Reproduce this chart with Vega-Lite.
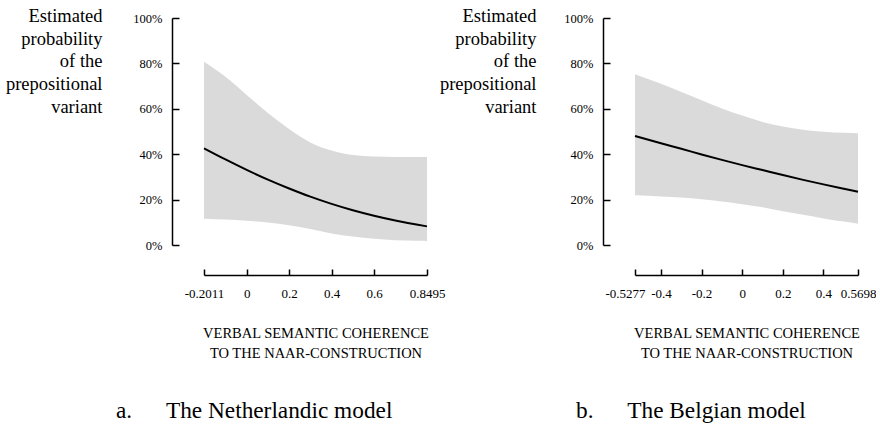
{
  "$schema": "https://vega.github.io/schema/vega-lite/v6.json",
  "background": "white",
  "padding": {"left": 5, "top": 6, "right": 0, "bottom": 0},
  "autosize": {"type": "pad"},
  "bounds": "flush",
  "spacing": 208,
  "config": {
    "font": "Liberation Serif",
    "view": {"stroke": null},
    "axis": {
      "grid": false,
      "domainColor": "black",
      "domainWidth": 1.5,
      "tickColor": "black",
      "tickWidth": 1.5,
      "labelColor": "black",
      "titleColor": "black",
      "labelFont": "Liberation Serif",
      "titleFont": "Liberation Serif",
      "titleFontWeight": "normal"
    },
    "axisX": {"labelFontSize": 13, "titleFontSize": 14.5, "titleLineHeight": 20},
    "axisY": {"labelFontSize": 12.5, "titleFontSize": 18.5, "titleLineHeight": 22.7},
    "title": {"font": "Liberation Serif", "fontWeight": "normal", "color": "black", "fontSize": 23.3}
  },
  "datasets": {
    "nl": [
      {"x": -0.2011, "fit": 0.426, "lower": 0.116, "upper": 0.807},
      {"x": -0.1, "fit": 0.377, "lower": 0.112, "upper": 0.741},
      {"x": 0, "fit": 0.331, "lower": 0.107, "upper": 0.661},
      {"x": 0.1, "fit": 0.288, "lower": 0.099, "upper": 0.581},
      {"x": 0.2, "fit": 0.249, "lower": 0.087, "upper": 0.511},
      {"x": 0.3, "fit": 0.213, "lower": 0.070, "upper": 0.452},
      {"x": 0.4, "fit": 0.181, "lower": 0.051, "upper": 0.416},
      {"x": 0.5, "fit": 0.153, "lower": 0.037, "upper": 0.396},
      {"x": 0.6, "fit": 0.129, "lower": 0.027, "upper": 0.390},
      {"x": 0.7, "fit": 0.108, "lower": 0.021, "upper": 0.388},
      {"x": 0.8, "fit": 0.090, "lower": 0.019, "upper": 0.388},
      {"x": 0.8495, "fit": 0.082, "lower": 0.018, "upper": 0.388}
    ],
    "be": [
      {"x": -0.5277, "fit": 0.480, "lower": 0.219, "upper": 0.752},
      {"x": -0.4, "fit": 0.448, "lower": 0.214, "upper": 0.710},
      {"x": -0.3, "fit": 0.424, "lower": 0.209, "upper": 0.674},
      {"x": -0.2, "fit": 0.399, "lower": 0.202, "upper": 0.638},
      {"x": -0.1, "fit": 0.375, "lower": 0.192, "upper": 0.601},
      {"x": 0, "fit": 0.352, "lower": 0.180, "upper": 0.570},
      {"x": 0.1, "fit": 0.330, "lower": 0.166, "upper": 0.542},
      {"x": 0.2, "fit": 0.308, "lower": 0.149, "upper": 0.522},
      {"x": 0.3, "fit": 0.287, "lower": 0.133, "upper": 0.508},
      {"x": 0.4, "fit": 0.267, "lower": 0.117, "upper": 0.499},
      {"x": 0.5, "fit": 0.248, "lower": 0.103, "upper": 0.494},
      {"x": 0.5698, "fit": 0.235, "lower": 0.094, "upper": 0.492}
    ]
  },
  "hconcat": [
    {
      "width": 223,
      "height": 227,
      "title": {"text": "a.\u00a0\u00a0\u00a0\u00a0\u00a0\u2009The Netherlandic model", "orient": "bottom", "anchor": "start", "frame": "group", "dx": -88, "offset": 40},
      "data": {"name": "nl"},
      "encoding": {
        "x": {
          "field": "x", "type": "quantitative",
          "scale": {"domain": [-0.2011, 0.8495], "nice": false, "zero": false},
          "axis": {
            "values": [-0.2011, 0, 0.2, 0.4, 0.6, 0.8495],
            "labelExpr": "datum.value + ''",
            "offset": 30, "tickSize": -6, "labelPadding": 18.5,
            "labelOverlap": false, "labelFlush": false, "labelBound": false,
            "title": ["VERBAL SEMANTIC COHERENCE", "TO THE NAAR-CONSTRUCTION"],
            "titlePadding": 26
          }
        }
      },
      "layer": [
        {
          "mark": {"type": "area", "color": "#dadada", "interpolate": "monotone"},
          "encoding": {
            "y": {
              "field": "lower", "type": "quantitative",
              "scale": {"domain": [0, 1], "nice": false},
              "axis": {
                "values": [0, 0.2, 0.4, 0.6, 0.8, 1], "format": ".0%",
                "offset": 32, "tickSize": -7, "labelPadding": 17,
                "title": ["Estimated", "probability", "of the", "prepositional", "variant"],
                "titleAngle": 0, "titleAlign": "right", "titleBaseline": "top",
                "titleX": -70, "titleY": -11.5
              }
            },
            "y2": {"field": "upper"}
          }
        },
        {
          "mark": {"type": "line", "color": "black", "strokeWidth": 2, "interpolate": "monotone"},
          "encoding": {
            "y": {"field": "fit", "type": "quantitative"}
          }
        }
      ]
    },
    {
      "width": 223,
      "height": 227,
      "title": {"text": "b.\u00a0\u00a0\u00a0\u00a0\u00a0\u2009The Belgian model", "orient": "bottom", "anchor": "start", "frame": "group", "dx": -59, "offset": 40},
      "data": {"name": "be"},
      "encoding": {
        "x": {
          "field": "x", "type": "quantitative",
          "scale": {"domain": [-0.5277, 0.5698], "nice": false, "zero": false},
          "axis": {
            "values": [-0.5277, -0.4, -0.2, 0, 0.2, 0.4, 0.5698],
            "labelExpr": "datum.value + ''",
            "labelOffset": {"condition": {"test": "datum.value < -0.5", "value": -10}, "value": 0},
            "offset": 30, "tickSize": -6, "labelPadding": 18.5,
            "labelOverlap": false, "labelFlush": false, "labelBound": false,
            "title": ["VERBAL SEMANTIC COHERENCE", "TO THE NAAR-CONSTRUCTION"],
            "titlePadding": 26
          }
        }
      },
      "layer": [
        {
          "mark": {"type": "area", "color": "#dadada", "interpolate": "monotone"},
          "encoding": {
            "y": {
              "field": "lower", "type": "quantitative",
              "scale": {"domain": [0, 1], "nice": false},
              "axis": {
                "values": [0, 0.2, 0.4, 0.6, 0.8, 1], "format": ".0%",
                "offset": 32, "tickSize": -7, "labelPadding": 17,
                "title": ["Estimated", "probability", "of the", "prepositional", "variant"],
                "titleAngle": 0, "titleAlign": "right", "titleBaseline": "top",
                "titleX": -67, "titleY": -11.5
              }
            },
            "y2": {"field": "upper"}
          }
        },
        {
          "mark": {"type": "line", "color": "black", "strokeWidth": 2, "interpolate": "monotone"},
          "encoding": {
            "y": {"field": "fit", "type": "quantitative"}
          }
        }
      ]
    }
  ]
}
